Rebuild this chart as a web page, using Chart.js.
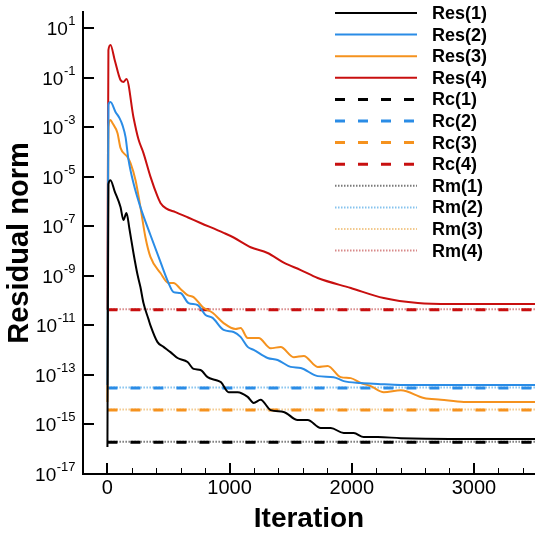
<!DOCTYPE html>
<html>
<head>
<meta charset="utf-8">
<script src="https://cdn.jsdelivr.net/npm/chart.js@4.4.1/dist/chart.umd.min.js"></script>
<style>
  html, body { margin: 0; padding: 0; background: #ffffff; }
  #wrap { width: 535px; height: 537px; }
</style>
</head>
<body>
<div id="wrap"><canvas id="residuals" width="535" height="537"></canvas></div>
<script>
// Residual histories
const res1Iter = [0, 8, 25, 60, 107, 131, 156, 180, 213, 246, 270, 295, 336, 352, 410, 459, 516, 574, 656, 705, 762, 820, 885, 930, 992, 1066, 1148, 1197, 1254, 1336, 1443, 1557, 1639, 1746, 1828, 1934, 2016, 2098, 2213, 2402, 2800, 3500];
const res1Val = [1.23e-16, 5.0e-6, 7.2e-6, 2.5e-6, 5.9e-7, 1.78e-7, 3.4e-7, 7.9e-8, 8.3e-9, 1.12e-9, 3.5e-10, 7.9e-11, 1.78e-11, 1.0e-11, 2.1e-12, 1.35e-12, 8.3e-13, 4.8e-13, 3.3e-13, 1.74e-13, 1.58e-13, 8.1e-14, 6.2e-14, 5.0e-14, 2.0e-14, 2.0e-14, 1.29e-14, 7.4e-15, 9.8e-15, 3.8e-15, 3.2e-15, 1.51e-15, 1.51e-15, 7.2e-16, 7.2e-16, 4.5e-16, 4.5e-16, 3.1e-16, 3.1e-16, 2.8e-16, 2.6e-16, 2.6e-16];

const res2Iter = [0, 8, 25, 66, 100, 123, 148, 172, 213, 270, 352, 434, 500, 541, 598, 664, 738, 803, 861, 951, 1033, 1090, 1148, 1197, 1311, 1393, 1500, 1582, 1721, 1852, 1934, 2074, 2213, 2402, 3500];
const res2Val = [3.9e-14, 7.9e-3, 1.02e-2, 4.1e-3, 2.24e-3, 1.2e-3, 4.0e-4, 5.0e-5, 5.5e-6, 5.9e-7, 4.4e-8, 3.6e-9, 5.1e-10, 2.19e-10, 2.0e-10, 7.9e-11, 6.6e-11, 2.63e-11, 2.0e-11, 6.5e-12, 5.4e-12, 3.4e-12, 1.35e-12, 1.02e-12, 4.8e-13, 4.0e-13, 2.1e-13, 1.9e-13, 8.9e-14, 8.1e-14, 5.6e-14, 4.7e-14, 4.3e-14, 3.9e-14, 3.9e-14];

const res3Iter = [0, 8, 25, 41, 82, 107, 164, 189, 230, 270, 311, 352, 434, 500, 541, 598, 656, 705, 779, 861, 951, 1049, 1090, 1148, 1238, 1336, 1418, 1525, 1607, 1721, 1803, 1910, 1992, 2074, 2156, 2262, 2402, 2590, 2730, 2918, 3500];
const res3Val = [8.1e-15, 1.0e-3, 1.95e-3, 1.45e-3, 5.8e-4, 1.45e-4, 6.2e-5, 3.5e-5, 7.2e-6, 5.9e-7, 3.6e-8, 5.8e-9, 1.29e-9, 5.1e-10, 5.1e-10, 2.95e-10, 1.66e-10, 1.38e-10, 5.5e-11, 3.2e-11, 1.23e-11, 7.1e-12, 7.8e-12, 3.1e-12, 3.1e-12, 1.2e-12, 1.32e-12, 5.2e-13, 5.8e-13, 2.1e-13, 2.3e-13, 8.1e-14, 7.4e-14, 4.7e-14, 3.5e-14, 2.0e-14, 2.4e-14, 1.17e-14, 1.0e-14, 8.1e-15, 8.1e-15];

const res4Iter = [0, 8, 25, 60, 107, 131, 156, 213, 254, 295, 352, 410, 434, 480, 557, 660, 762, 951, 1033, 1172, 1311, 1443, 1582, 1721, 1992, 2262, 2541, 2811, 3500];
const res4Val = [4.2e-11, 1.26, 2.04, 0.5, 7.9e-2, 6.6e-2, 8.7e-2, 2.5e-3, 3.2e-4, 8.9e-5, 1.0e-5, 1.58e-6, 8.7e-7, 5.2e-7, 3.7e-7, 2.24e-7, 1.35e-7, 5.4e-8, 3.5e-8, 1.41e-8, 8.3e-9, 3.4e-9, 1.7e-9, 8.1e-10, 3.2e-10, 1.26e-10, 7.9e-11, 7.2e-11, 7.2e-11];

// Constant reference levels
const levelIter = [0, 3500];
const rcLevels = [1.9e-16, 2.95e-14, 3.8e-15, 4.2e-11];
const rmLevels = [2.0e-16, 3.1e-14, 4.0e-15, 4.4e-11];

const resLabels = ['Res(1)', 'Res(2)', 'Res(3)', 'Res(4)'];
const rcLabels = ['Rc(1)', 'Rc(2)', 'Rc(3)', 'Rc(4)'];
const rmLabels = ['Rm(1)', 'Rm(2)', 'Rm(3)', 'Rm(4)'];

// Axis ticks
const xTickValues = [0, 1000, 2000, 3000];
const xMinorTicks = [200, 400, 600, 800, 1200, 1400, 1600, 1800, 2200, 2400, 2600, 2800, 3200, 3400];
const yTickValues = [1e1, 1e-1, 1e-3, 1e-5, 1e-7, 1e-9, 1e-11, 1e-13, 1e-15, 1e-17];

const lineColors = ['#000000', '#2a8ce6', '#f5921e', '#c80f0f'];
const dotColors = ['#7a7a7a', '#86c3ee', '#f2c98e', '#d88a8a'];

const FONT = '"Liberation Sans", Arial, Helvetica, sans-serif';

function toPoints(iters, vals) {
  return iters.map(function(it, i) { return { x: it, y: vals[i] }; });
}

/**
 * Inward tick marks on both axes
 */
const insideTicks = {
  id: 'insideTicks',
  afterDraw(chart) {
    const ctx = chart.ctx;
    const xs = chart.scales.x;
    const ys = chart.scales.y;
    const area = chart.chartArea;
    ctx.save();
    ctx.strokeStyle = '#000000';

    ctx.lineWidth = 2;
    xTickValues.forEach(function(v) {
      const px = Math.round(xs.getPixelForValue(v));
      ctx.beginPath();
      ctx.moveTo(px, area.bottom);
      ctx.lineTo(px, area.bottom - 11);
      ctx.stroke();
    });
    yTickValues.forEach(function(v) {
      const py = Math.round(ys.getPixelForValue(v));
      ctx.beginPath();
      ctx.moveTo(area.left, py);
      ctx.lineTo(area.left + 11, py);
      ctx.stroke();
    });

    ctx.lineWidth = 1;
    xMinorTicks.forEach(function(v) {
      const px = Math.round(xs.getPixelForValue(v)) + 0.5;
      ctx.beginPath();
      ctx.moveTo(px, area.bottom);
      ctx.lineTo(px, area.bottom - 6);
      ctx.stroke();
    });
    ctx.restore();
  }
};

/**
 * Power-of-ten labels with a raised exponent
 */
const powerLabels = {
  id: 'powerLabels',
  afterDraw(chart) {
    const ctx = chart.ctx;
    const ys = chart.scales.y;
    const right = chart.chartArea.left - 8;
    ctx.save();
    ctx.fillStyle = '#000000';
    ctx.textAlign = 'left';
    ctx.textBaseline = 'alphabetic';
    yTickValues.forEach(function(v) {
      const py = ys.getPixelForValue(v);
      const exp = String(Math.round(Math.log10(v)));
      ctx.font = '13px ' + FONT;
      const wExp = ctx.measureText(exp).width;
      ctx.font = '19px ' + FONT;
      const wBase = ctx.measureText('10').width;
      const x0 = right - wExp - wBase;
      ctx.fillText('10', x0, py + 7);
      ctx.font = '13px ' + FONT;
      ctx.fillText(exp, x0 + wBase + 0.5, py - 3);
    });
    ctx.restore();
  }
};

/**
 * Legend drawn inside the top right of the plot
 */
const seriesLegend = {
  id: 'seriesLegend',
  afterDraw(chart) {
    const ctx = chart.ctx;
    ctx.save();
    ctx.font = 'bold 18px ' + FONT;
    ctx.textBaseline = 'middle';
    ctx.fillStyle = '#000000';
    chart.data.datasets.forEach(function(ds, i) {
      const y = 13 + i * 21.6;
      ctx.strokeStyle = ds.borderColor;
      ctx.lineWidth = ds.borderWidth;
      ctx.setLineDash(ds.borderDash || []);
      ctx.beginPath();
      ctx.moveTo(335, y);
      ctx.lineTo(417, y);
      ctx.stroke();
      ctx.setLineDash([]);
      ctx.fillText(ds.label, 432, y + 1);
    });
    ctx.restore();
  }
};

const datasets = [];
const resSeries = [[res1Iter, res1Val], [res2Iter, res2Val], [res3Iter, res3Val], [res4Iter, res4Val]];
resSeries.forEach(function(s, i) {
  datasets.push({
    label: resLabels[i],
    data: toPoints(s[0], s[1]),
    borderColor: lineColors[i],
    borderWidth: 2,
    cubicInterpolationMode: 'monotone',
    pointRadius: 0
  });
});
rcLevels.forEach(function(v, i) {
  datasets.push({
    label: rcLabels[i],
    data: toPoints(levelIter, [v, v]),
    borderColor: lineColors[i],
    borderWidth: 3,
    borderDash: [10, 13],
    pointRadius: 0
  });
});
rmLevels.forEach(function(v, i) {
  datasets.push({
    label: rmLabels[i],
    data: toPoints(levelIter, [v, v]),
    borderColor: dotColors[i],
    borderWidth: 2,
    borderDash: [1.5, 1.5],
    pointRadius: 0
  });
});

Chart.defaults.font.family = FONT;
Chart.defaults.color = '#000000';

new Chart(document.getElementById('residuals').getContext('2d'), {
  type: 'line',
  data: { datasets: datasets },
  options: {
    responsive: false,
    animation: false,
    devicePixelRatio: 1,
    layout: { padding: { top: 12, right: 0, bottom: 0, left: 0 } },
    plugins: {
      legend: { display: false },
      tooltip: { enabled: false }
    },
    scales: {
      x: {
        type: 'linear',
        min: -200,
        max: 3500,
        afterBuildTicks: function(scale) {
          scale.ticks = xTickValues.map(function(v) { return { value: v }; });
        },
        afterFit: function(scale) { scale.height = 63; },
        grid: { display: false, drawTicks: false },
        border: { display: true, color: '#000000', width: 2 },
        ticks: {
          font: { size: 20 },
          padding: 2,
          maxRotation: 0,
          autoSkip: false,
          callback: function(value) { return String(value); }
        },
        title: { display: true, text: 'Iteration', font: { size: 28, weight: 'bold' }, padding: { top: 0, bottom: 1 } }
      },
      y: {
        type: 'logarithmic',
        min: 1e-17,
        max: 44,
        afterBuildTicks: function(scale) {
          scale.ticks = yTickValues.map(function(v) { return { value: v }; });
        },
        afterFit: function(scale) { scale.width = 83; },
        grid: { display: false, drawTicks: false },
        border: { display: true, color: '#000000', width: 2 },
        ticks: { display: false },
        title: { display: true, text: 'Residual norm', font: { size: 29, weight: 'bold' }, padding: { top: 3, bottom: 0 } }
      }
    }
  },
  plugins: [insideTicks, powerLabels, seriesLegend]
});
</script>
</body>
</html>
